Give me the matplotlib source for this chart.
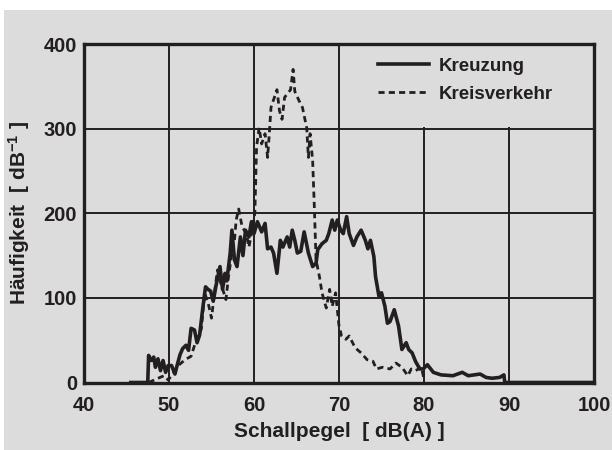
import matplotlib
matplotlib.use('Agg')
import matplotlib.pyplot as plt
from matplotlib.patches import Rectangle

# Kreuzung (solid)
kr_x = [45.5, 47.5, 47.6, 47.9, 48.2, 48.4, 48.7, 49.0, 49.3, 49.6, 49.9, 50.3, 50.7, 51.0,
        51.3, 51.6, 52.0, 52.3, 52.6, 53.0, 53.3, 53.6, 54.0, 54.3, 54.6, 54.9, 55.2, 55.6,
        56.0, 56.3, 56.6, 56.8, 57.2, 57.4, 57.7, 58.0, 58.4, 58.7, 59.0, 59.4, 59.7, 60.0,
        60.4, 60.9, 61.3, 61.6, 62.0, 62.3, 62.7, 63.1, 63.4, 63.9, 64.2, 64.5, 64.8, 65.1,
        65.5, 65.9, 66.4, 66.9, 67.3, 67.5, 68.0, 68.5, 68.8, 69.2, 69.5, 69.8, 70.2, 70.5,
        70.9, 71.2, 71.7, 72.1, 72.6, 73.1, 73.4, 73.7, 74.1, 74.3, 74.7, 75.0, 75.4, 75.7,
        76.0, 76.5, 77.0, 77.4, 77.9, 78.2, 78.6, 79.0, 79.5, 79.9, 80.4, 81.1, 82.0, 83.4,
        84.5, 85.2, 86.6, 87.3, 88.0, 88.9, 89.4, 89.5, 100.0]
kr_y = [0, 0, 32, 26, 30, 18, 28, 14, 26, 12, 20, 20, 10, 22,
        33, 40, 44, 38, 64, 62, 47, 56, 90, 113, 110, 108, 96, 118,
        137, 110, 129, 120, 153, 180, 145, 137, 172, 150, 180, 172, 190, 176,
        190, 178, 188, 158, 160, 153, 129, 168, 160, 172, 160, 180, 168, 153,
        155, 178, 153, 137, 141, 157, 164, 168, 176, 192, 180, 192, 180, 176,
        196, 176, 162, 172, 180, 168, 158, 168, 149, 125, 102, 106, 90, 70,
        72, 86, 67, 39, 47, 39, 35, 25, 16, 16, 21, 12, 9, 8,
        12, 8, 10, 6, 5, 6, 9, 0, 0]

# Kreisverkehr (dashed)
kv_x = [47.6, 48.5, 49.4, 49.9, 50.6, 51.2, 51.9, 52.6, 53.1, 53.8, 54.2, 54.7, 55.0, 55.4,
        55.7, 56.1, 56.7, 57.0, 57.4, 57.7, 57.9, 58.2, 58.6, 59.1, 59.4, 59.7, 60.1, 60.3,
        60.6, 60.9, 61.3, 61.6, 61.8, 62.0, 62.4, 62.7, 63.0, 63.3, 63.6, 64.0, 64.3, 64.6,
        64.8, 65.3, 65.7, 66.2, 66.4, 66.6, 66.9, 67.1, 67.3, 67.7, 68.0, 68.5, 68.9, 69.2,
        69.6, 70.0, 70.3, 70.8, 71.2, 71.9, 72.6, 73.3, 74.0, 74.4, 75.1, 76.0, 76.7, 77.4,
        78.1, 78.5, 79.0, 79.7, 80.0]
kv_y = [0, 4, 8, 3, 12, 21, 27, 31, 47, 63, 106, 90, 76, 110,
        133, 117, 98, 125, 153, 168, 192, 205, 184, 176, 160, 176, 200, 278,
        301, 282, 294, 266, 294, 325, 337, 346, 321, 311, 337, 342, 346, 370,
        344, 333, 325, 301, 266, 294, 262, 207, 145, 125, 106, 88, 110, 90,
        106, 67, 55, 51, 55, 41, 35, 27, 25, 16, 18, 16, 23, 18,
        8, 16, 14, 18, 4]

x_ticks = [40, 50, 60, 70, 80, 90, 100]
y_ticks = [0, 100, 200, 300, 400]

bg = '#dcdcdc'
ink = '#231f20'

plt.rcParams['font.family'] = ['Liberation Sans', 'DejaVu Sans']
plt.rcParams['font.weight'] = 'bold'
plt.rcParams['axes.labelweight'] = 'bold'
plt.rcParams['mathtext.fontset'] = 'custom'
plt.rcParams['mathtext.bf'] = 'Liberation Sans:bold'
plt.rcParams['mathtext.rm'] = 'Liberation Sans:bold'
plt.rcParams['mathtext.default'] = 'bf'

fig = plt.figure(figsize=(6.12, 4.5), dpi=100, facecolor='white')
fig.patches.append(Rectangle((4 / 612, 0), 1, 1 - 10 / 450, transform=fig.transFigure,
                             facecolor=bg, edgecolor='none', zorder=-10))
ax = fig.add_axes([84 / 612, 67.5 / 450, 510 / 612, 338.5 / 450])
ax.set_facecolor(bg)

ax.plot(kr_x, kr_y, color=ink, lw=2.6, label='Kreuzung', zorder=4)
ax.plot(kv_x, kv_y, color=ink, lw=2.0, ls=(0, (2.2, 1.5)), label='Kreisverkehr', zorder=3)

ax.set_xlim(40, 100)
ax.set_ylim(0, 400)
ax.set_xticks(x_ticks)
ax.set_yticks(y_ticks)
ax.grid(True, color=ink, lw=1.4, zorder=1)
ax.set_axisbelow(True)
for s in ax.spines.values():
    s.set_linewidth(2.4)
    s.set_color(ink)
ax.tick_params(length=0, labelsize=14.5, colors=ink)
ax.tick_params(axis='x', pad=10)
ax.tick_params(axis='y', pad=5)

# legend area hides grid
ax.add_patch(Rectangle((0.55, 0.755), 0.45, 0.245, transform=ax.transAxes,
                       facecolor=bg, edgecolor='none', zorder=2))
ax.legend(loc='upper left', bbox_to_anchor=(0.577, 0.96), frameon=False, fontsize=13.5,
          handlelength=2.7, handletextpad=0.55, labelspacing=0.6, borderpad=0,
          borderaxespad=0, labelcolor=ink)

ax.set_xlabel('Schallpegel  [ dB(A) ]', fontsize=15, color=ink, labelpad=5)
ax.set_ylabel('Häufigkeit  [ dB$^{-1}$ ]', fontsize=15, color=ink, labelpad=8)

fig.savefig('out.png', dpi=100, facecolor=fig.get_facecolor())
